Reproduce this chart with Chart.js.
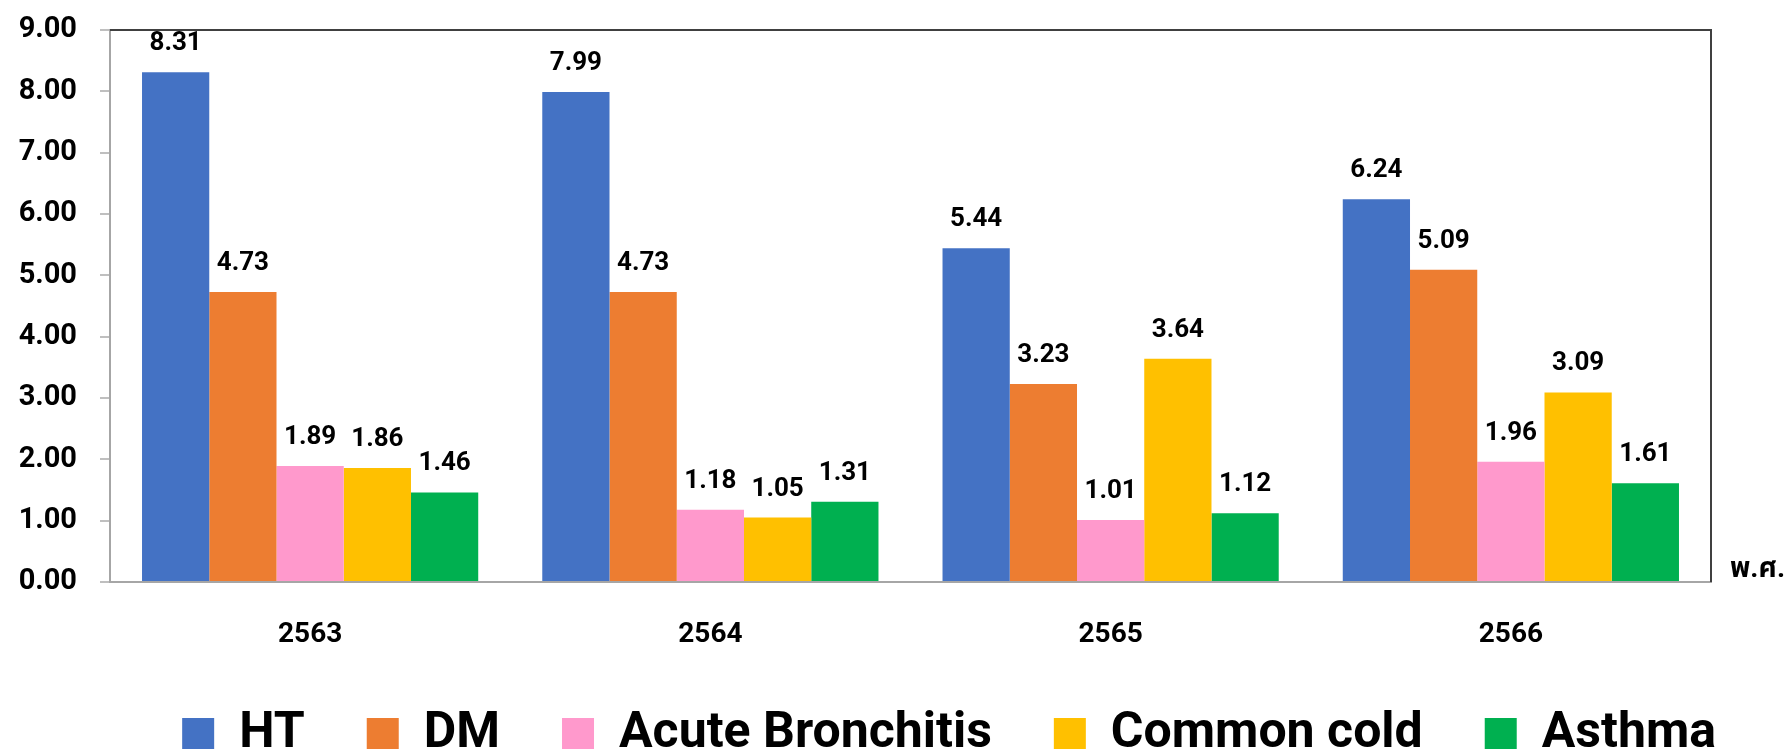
<!DOCTYPE html>
<html><head><meta charset="utf-8">
<script src="https://cdn.jsdelivr.net/npm/chart.js@4"></script>
<style>
html,body{margin:0;padding:0;background:#fff;overflow:hidden;}
#wrap{position:relative;width:1791px;height:769px;}
</style></head><body>
<div id="wrap"><canvas id="c"></canvas></div>
<script>
const categories = ['2563', '2564', '2565', '2566'];
const seriesNames = ['HT', 'DM', 'Acute Bronchitis', 'Common cold', 'Asthma'];
const htValues = [8.31, 7.99, 5.44, 6.24];
const dmValues = [4.73, 4.73, 3.23, 5.09];
const acuteBronchitisValues = [1.89, 1.18, 1.01, 1.96];
const commonColdValues = [1.86, 1.05, 3.64, 3.09];
const asthmaValues = [1.46, 1.31, 1.12, 1.61];
const seriesColors = ['#4472C4', '#ED7D31', '#FF99CC', '#FFC000', '#00B050'];
const yTickMin = 0, yTickMax = 9, yTickStep = 1;
const xAxisUnit = 'พ.ศ.';

const FONT = 'Roboto, "Noto Sans", "Noto Sans Thai", "DejaVu Sans", sans-serif';
Chart.defaults.font.family = FONT;
Chart.defaults.color = '#000';

const seriesValues = [htValues, dmValues, acuteBronchitisValues, commonColdValues, asthmaValues];

const dataLabelPlugin = {
  id: 'dataLabels',
  afterDatasetsDraw(chart) {
    const ctx = chart.ctx;
    ctx.save();
    ctx.font = 'bold 26px ' + FONT;
    ctx.fillStyle = '#000';
    ctx.textAlign = 'center';
    ctx.textBaseline = 'alphabetic';
    chart.data.datasets.forEach((ds, i) => {
      const meta = chart.getDatasetMeta(i);
      meta.data.forEach((bar, j) => {
        ctx.fillText(Number(ds.data[j]).toFixed(2), bar.x, bar.y - 22);
      });
    });
    ctx.restore();
  }
};

const framePlugin = {
  id: 'frame',
  afterDraw(chart) {
    const {ctx, chartArea: a} = chart;
    ctx.save();
    ctx.strokeStyle = '#404040';
    ctx.lineWidth = 2;
    ctx.beginPath();
    ctx.moveTo(a.left, a.top);
    ctx.lineTo(a.right, a.top);
    ctx.lineTo(a.right, a.bottom);
    ctx.stroke();
    ctx.font = 'bold 28px ' + FONT;
    ctx.fillStyle = '#000';
    ctx.textAlign = 'left';
    ctx.textBaseline = 'alphabetic';
    ctx.fillText(xAxisUnit, a.right + 19, a.bottom - 5);
    ctx.restore();
  }
};

new Chart(document.getElementById('c'), {
  type: 'bar',
  data: {
    labels: categories,
    datasets: seriesNames.map((name, i) => ({
      label: name,
      data: seriesValues[i],
      backgroundColor: seriesColors[i],
      borderWidth: 0,
      categoryPercentage: 0.84,
      barPercentage: 1.0,
      yAxisID: 'y',
      xAxisID: 'x'
    }))
  },
  options: {
    responsive: true,
    maintainAspectRatio: false,
    animation: false,
    layout: { padding: { top: 30, right: 13, left: 0, bottom: 0 } },
    plugins: {
      tooltip: { enabled: false },
      legend: {
        position: 'bottom',
        align: 'end',
        labels: {
          boxWidth: 32,
          boxHeight: 32,
          padding: 62,
          color: '#000',
          font: { size: 50, weight: 'bold' }
        }
      }
    },
    scales: {
      x: {
        afterFit(scale) { scale.height = 65; },
        grid: { display: false, drawTicks: false },
        border: { display: true, color: '#A6A6A6', width: 2 },
        ticks: { padding: 36, font: { size: 28, weight: 'bold' }, color: '#000' }
      },
      y: {
        min: yTickMin,
        max: yTickMax,
        afterFit(scale) { scale.width = 110; scale.paddingTop = 0; scale.paddingBottom = 0; },
        grid: { drawOnChartArea: false, drawTicks: true, tickLength: 10, color: '#BFBFBF', lineWidth: 2 },
        border: { display: true, color: '#A6A6A6', width: 2 },
        ticks: {
          stepSize: yTickStep,
          padding: 23,
          font: { size: 29, weight: 'bold' },
          color: '#000',
          callback: v => Number(v).toFixed(2)
        }
      },
      yRight: {
        position: 'right',
        display: true,
        afterFit(scale) { scale.width = 67; },
        grid: { display: false, drawTicks: false },
        border: { display: false },
        ticks: { display: false }
      }
    }
  },
  plugins: [dataLabelPlugin, framePlugin]
});
</script>
</body></html>
